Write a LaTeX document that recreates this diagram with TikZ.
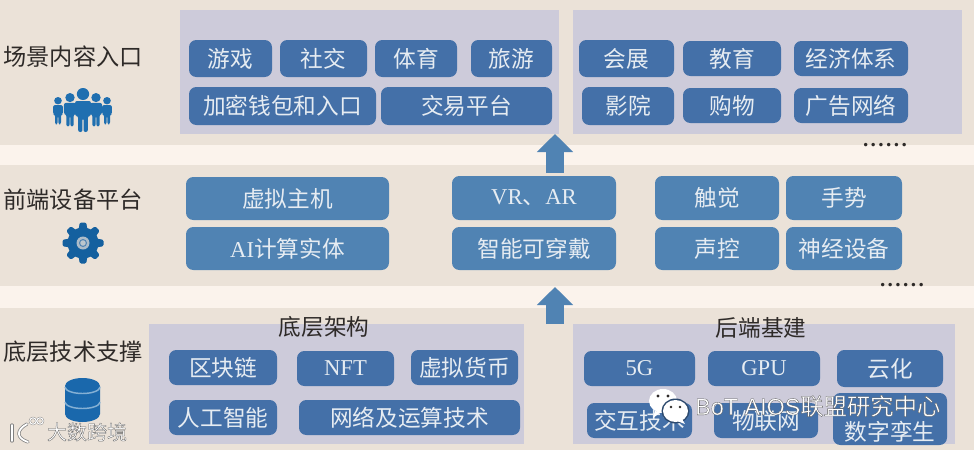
\documentclass[tikz,border=0pt]{standalone}
\usepackage{fontspec}
\setmainfont{Liberation Serif}
\setsansfont{Liberation Sans}
\newfontfamily\cjk{Noto Sans CJK SC}
\usetikzlibrary{arrows.meta}
\definecolor{bgc}{HTML}{EBE2D8}
\definecolor{bandc}{HTML}{FBF3EC}
\definecolor{panelc}{HTML}{CDCBDA}
\definecolor{boxa}{HTML}{4470A8}
\definecolor{boxb}{HTML}{5083B3}
\definecolor{boxtext}{HTML}{E6ECF2}
\definecolor{labelc}{HTML}{2E2A28}
\definecolor{iconc}{HTML}{1F6FB0}
\definecolor{gearc}{HTML}{14609F}
\definecolor{dbc}{HTML}{1A68AC}
\tikzset{
  x=0.75pt,y=-0.75pt,
  panel/.style={fill=panelc,draw=none},
  band/.style={fill=bandc,draw=none},
  boxcore/.style={rounded corners=5.5pt,inner sep=0pt,text=boxtext,font=\fontsize{17}{20}\selectfont\cjk},
  boxtop/.style={boxcore,fill=boxa},
  boxmid/.style={boxcore,fill=boxb},
  rowlabel/.style={inner sep=0pt,text=labelc,font=\fontsize{17.4}{20}\selectfont\cjk},
  paneltitle/.style={inner sep=0pt,text=labelc,font=\fontsize{17}{20}\selectfont\cjk},
  dots/.style={inner sep=0pt,text=labelc,font=\fontsize{16}{16}\selectfont\bfseries},
  blockarrow/.style={draw=boxb,line width=13.5pt,-{Triangle[length=13.5pt,width=26.5pt,fill=boxb]}},
  wmark/.style={inner sep=0pt,text=white,font=\fontsize{17.5}{20}\selectfont\sffamily},
  wmarkb/.style={inner sep=0pt,text=white,font=\fontsize{15}{18}\selectfont\cjk},
}
% name, x1, y1, x2, y2, style, text
\newcommand{\bx}[7]{\node[#6,minimum width={(#4-#2)*0.75pt},minimum height={(#5-#3)*0.75pt}] (#1) at ({(#2+#4)/2},{(#3+#5)/2}) {#7};}
\newcommand{\lat}[1]{{\rmfamily #1}}
\newcommand{\sixdots}{.\kern1.8pt.\kern1.8pt.\kern1.8pt.\kern1.8pt.\kern1.8pt.}
\newcommand{\outlined}[1]{\special{pdf:code 2 Tr 0.22 w 0.35 0.35 0.35 RG}#1\special{pdf:code 0 Tr}}
% x centre, head top y, scale
\newcommand{\person}[3]{%
  \begin{scope}[shift={(#1,#2)},xscale=0.88*#3,yscale=#3]
    \fill[iconc] (0,6) ellipse[x radius=7,y radius=6];
    \fill[iconc,rounded corners=1.5pt] (-9,13) -- (9,13) -- (9,28) -- (5.5,28) -- (5.5,44) -- (0.6,44) -- (0.6,30) -- (-0.6,30) -- (-0.6,44) -- (-5.5,44) -- (-5.5,28) -- (-9,28) -- cycle;
  \end{scope}}
\begin{document}
\begin{tikzpicture}
\useasboundingbox (0,0) rectangle (974,450);
\fill[bgc] (0,0) rectangle (974,450);
\fill[band] (0,145) rectangle (974,165);
\fill[band] (0,286) rectangle (974,308);
% panels
\fill[panel] (180,10) rectangle (559,134);
\fill[panel] (573,10) rectangle (962,134);
\fill[panel] (149,324) rectangle (524,444);
\fill[panel] (573,324) rectangle (955,444);
% row labels
\node[rowlabel] (l1) at (73,57) {场景内容入口};
\node[rowlabel] (l2) at (73,200) {前端设备平台};
\node[rowlabel] (l3) at (73,352) {底层技术支撑};
% top left
\bx{a1}{189}{40}{272}{77}{boxtop}{游戏}
\bx{a2}{280}{40}{367}{77}{boxtop}{社交}
\bx{a3}{375}{40}{457}{77}{boxtop}{体育}
\bx{a4}{471}{40}{552}{77}{boxtop}{旅游}
\bx{a5}{189}{87}{376}{125}{boxtop}{加密钱包和入口}
\bx{a6}{381}{87}{552}{125}{boxtop}{交易平台}
% top right
\bx{b1}{579}{40}{674}{77}{boxtop}{会展}
\bx{b2}{683}{41}{781}{76}{boxtop}{教育}
\bx{b3}{794}{41}{908}{76}{boxtop}{经济体系}
\bx{b4}{582}{87}{674}{125}{boxtop}{影院}
\bx{b5}{683}{88}{781}{123}{boxtop}{购物}
\bx{b6}{794}{88}{908}{123}{boxtop}{广告网络}
\node[dots] (d1) at (885,145) {\sixdots};
% middle
\bx{c1}{186}{177}{389}{220}{boxmid}{虚拟主机}
\bx{c2}{186}{227}{389}{270}{boxmid}{\lat{AI}计算实体}
\bx{c3}{452}{176}{616}{220}{boxmid}{\lat{VR}、\lat{AR}}
\bx{c4}{452}{227}{616}{270}{boxmid}{智能可穿戴}
\bx{c5}{655}{176}{779}{220}{boxmid}{触觉}
\bx{c6}{786}{176}{902}{220}{boxmid}{手势}
\bx{c7}{655}{227}{779}{270}{boxmid}{声控}
\bx{c8}{786}{227}{902}{270}{boxmid}{神经设备}
\node[dots] (d2) at (902,285) {\sixdots};
% arrows
\coordinate (ar1s) at (555,173); \coordinate (ar1e) at (555,134);
\coordinate (ar2s) at (555,324); \coordinate (ar2e) at (555,287);
\draw[blockarrow] (ar1s) -- (ar1e);
\draw[blockarrow] (ar2s) -- (ar2e);
% bottom left
\node[paneltitle] (t1) at (324,327) {底层架构};
\bx{e1}{169}{350}{277}{385}{boxtop}{区块链}
\bx{e2}{297}{351}{394}{386}{boxtop}{\lat{NFT}}
\bx{e3}{411}{350}{518}{385}{boxtop}{虚拟货币}
\bx{e4}{169}{400}{277}{435}{boxtop}{人工智能}
\bx{e5}{299}{400}{520}{435}{boxtop}{网络及运算技术}
% bottom right
\node[paneltitle] (t2) at (761,328) {后端基建};
\bx{f1}{584}{351}{695}{386}{boxtop}{\lat{5G}}
\bx{f2}{708}{351}{820}{386}{boxtop}{\lat{GPU}}
\bx{f3}{837}{350}{943}{387}{boxtop}{云化}
\bx{f4}{587}{403}{692}{438}{boxtop}{交互技术}
\bx{f5}{714}{403}{818}{438}{boxtop}{物联网}
\fill[boxa,rounded corners=5.5pt] (833,393) rectangle (947,445);
\node[boxcore] (f6) at (890,432) {数字孪生};
% people icon
\person{58}{97}{0.62}
\person{107}{97}{0.62}
\person{70}{93}{0.76}
\person{96}{93}{0.76}
\person{83}{88}{1}
% gear icon
\begin{scope}[shift={(83,243)}]
  \fill[gearc] (0,0) circle[radius=15.5];
  \foreach \a in {0,45,...,315}{
    \fill[gearc,rotate=\a,rounded corners=1pt] (-4.5,-13) -- (-3.2,-20.5) -- (3.2,-20.5) -- (4.5,-13) -- cycle;
  }
  \fill[bgc!60!boxb] (0,0) circle[radius=6.5];
  \fill[boxb] (0,0) circle[radius=4];
  \fill[bgc!70!boxb] (0,0) circle[radius=2.8];
\end{scope}
% database icon
\begin{scope}[shift={(82.5,0)}]
  \fill[dbc] (-17.5,386) -- (-17.5,414) arc[start angle=180,end angle=0,x radius=17.5,y radius=8] -- (17.5,386) arc[start angle=0,end angle=-180,x radius=17.5,y radius=8] -- cycle;
  \draw[iconc!55!white,line width=1.1pt] (-17.5,387) arc[start angle=180,end angle=0,x radius=17.5,y radius=6.5];
  \draw[iconc!55!white,line width=1.1pt] (-17.5,402) arc[start angle=180,end angle=0,x radius=17.5,y radius=6.5];
\end{scope}
% watermark, lower left
\begin{scope}[line cap=round]
  \foreach \c/\w in {black!50/2.4pt,white/1.3pt}{
    \draw[\c,line width=\w] (12,425) -- (12,441);
    \draw[\c,line width=\w] (27,424) .. controls (16,430) and (16,438) .. (28,442);
    \draw[\c,line width=\w*.6] (33,421) circle[radius=3.2];
    \draw[\c,line width=\w*.6] (40,421) circle[radius=3.2];
  }
\end{scope}
\node[wmarkb] (w2) at (87,432) {\outlined{大数跨境}};
% watermark, lower right
\fill[white] (663,401) ellipse[x radius=14,y radius=12];
\fill[white] (655,411) -- (653,418) -- (661,412) -- cycle;
\fill[labelc] (658,396) circle[radius=1.6];
\fill[labelc] (668,396) circle[radius=1.6];
\fill[boxa!65!black] (675.5,411) ellipse[x radius=14,y radius=12.5];
\fill[white] (675.5,411) ellipse[x radius=12.5,y radius=11];
\fill[white] (682,419) -- (685,424) -- (677,421) -- cycle;
\fill[labelc] (671,407) circle[radius=1.4];
\fill[labelc] (680,407) circle[radius=1.4];
\node[wmark,anchor=west] (w1) at (695,406) {\outlined{BoT AIOS{\cjk 联盟研究中心}}};
\end{tikzpicture}
\end{document}
